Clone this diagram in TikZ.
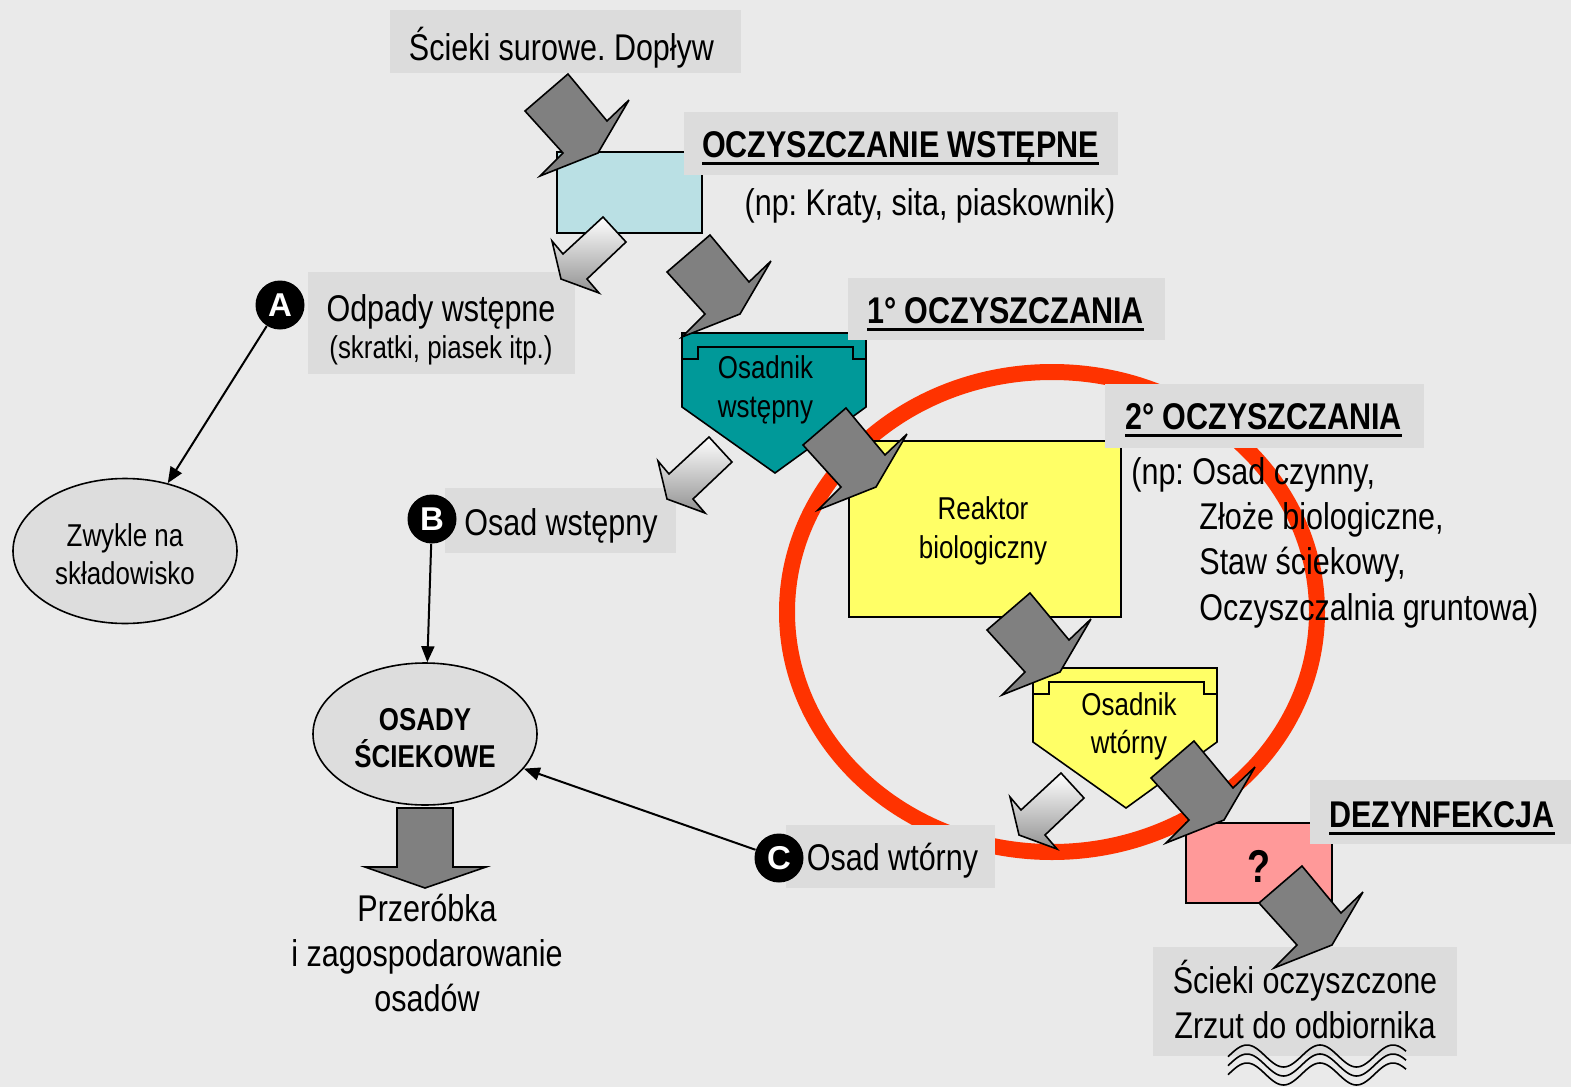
\documentclass[tikz,border=0pt]{standalone}
\usepackage{fontspec}
\setmainfont{Liberation Sans}[FakeStretch=0.82]
\newfontfamily\circfont{Liberation Sans}
\usetikzlibrary{arrows.meta,shapes.geometric}
\definecolor{bgc}{RGB}{234,234,234}
\definecolor{lblc}{RGB}{220,220,220}
\definecolor{prec}{RGB}{186,224,228}
\definecolor{tealc}{RGB}{0,153,153}
\definecolor{yelc}{RGB}{255,255,102}
\definecolor{pinkc}{RGB}{255,153,153}
\definecolor{ringc}{RGB}{255,51,0}
\definecolor{garc}{RGB}{128,128,128}
\definecolor{gradlo}{RGB}{145,145,145}
\definecolor{ellc}{RGB}{221,221,221}
\frenchspacing
\newcommand\szM{\fontsize{18.6pt}{22pt}\selectfont}
\newcommand\szS{\fontsize{15.8pt}{19pt}\selectfont}
\newcommand\ulbar[1]{\setbox0=\hbox{#1}\rlap{\rule[-4.1pt]{\wd0}{1.6pt}}\box0}
\begin{document}
\begin{tikzpicture}[x=0.5pt,y=-0.5pt,
  lbl/.style={fill=lblc, inner sep=0pt},
  txt/.style={inner sep=0pt, anchor=base, font=\szM},
  hd/.style={inner sep=0pt, anchor=base, font=\szM\bfseries},
  intxt/.style={inner sep=0pt, anchor=base, font=\szS},
  boxs/.style={draw, line width=0.8pt, inner sep=0pt},
  ells/.style={ellipse, draw, line width=0.8pt, fill=ellc, inner sep=0pt},
  conn/.style={draw, line width=1pt, -{Triangle[length=8pt,width=6.5pt]}},
  badge/.style={circle, fill=black, text=white, inner sep=0pt, minimum size=24.5pt,
    font=\circfont\fontsize{16.5pt}{16.5pt}\selectfont\bfseries},
  garrow/.pic={\draw[line width=0.8pt, fill=garc, miter limit=5]
     (0,0) -- (43,-37) -- (82,10) -- (104,-11) -- (73,42) -- (15,65) -- (38,42) -- cycle;},
  warrow/.pic={\draw[line width=0.8pt, top color=white, bottom color=gradlo, miter limit=5]
     (0,0) -- (23,25) -- (-16,62) -- (-4,76) -- (-42,62) -- (-51,24) -- (-40,37) -- cycle;},
  tank/.pic={\draw[line width=0.8pt, fill=#1] (0,0) -- (184,0) -- (184,74) -- (93,140) -- (0,74) -- cycle;
     \draw[line width=0.8pt] (0,26) -- (16,26) -- (16,14) -- (171,14) -- (171,26) -- (184,26);},
]
\useasboundingbox (0,0) rectangle (1571,1087);
\fill[bgc] (0,0) rectangle (1571,1087);

% red ring
\draw[ringc, line width=8pt] (1052,612) ellipse [x radius=265, y radius=240];

% process shapes
\node[boxs, fill=prec, minimum width=72.5pt, minimum height=40.5pt] (pre) at (629.5,192.5) {};
\pic (tk1) at (682,333) {tank=tealc};
\node[boxs, fill=yelc, minimum width=136pt, minimum height=88pt] (reak) at (985,529) {};
\pic (tk2) at (1033,668) {tank=yelc};
\node[boxs, fill=pinkc, minimum width=73pt, minimum height=40pt] (dez) at (1259,863) {};
\node[ells, minimum width=112pt, minimum height=72.5pt] (zw) at (125,551) {};
\node[ells, minimum width=112pt, minimum height=71pt] (osady) at (425,734) {};

% label boxes
\node[lbl, minimum width=175.5pt, minimum height=31.5pt] (Lin) at (565.5,41.5) {};
\node[lbl, minimum width=217pt, minimum height=31.5pt] (Lpre) at (901,143.5) {};
\node[lbl, minimum width=158.5pt, minimum height=31pt] (L1) at (1006.5,309) {};
\node[lbl, minimum width=159.5pt, minimum height=32pt] (L2) at (1264.5,416) {};
\node[lbl, minimum width=130.5pt, minimum height=32pt] (Ldez) at (1440.5,812) {};
\node[lbl, minimum width=152pt, minimum height=54.5pt] (Lout) at (1305,1001.5) {};
\node[lbl, minimum width=133.5pt, minimum height=51pt] (Lodp) at (441.5,323) {};
\node[lbl, minimum width=115.5pt, minimum height=32.5pt] (Losw) at (560.5,520.5) {};
\node[lbl, minimum width=104.5pt, minimum height=31.5pt] (Loswt) at (890.5,856.5) {};

% block arrows
\pic (ga1) at (525,111) {garrow};
\pic (ga2) at (667,272) {garrow};
\pic (ga3) at (803,445) {garrow};
\pic (ga4) at (987,630) {garrow};
\pic (ga5) at (1151,778) {garrow};
\pic (ga6) at (1259,903) {garrow};
\pic (wa1) at (603,217) {warrow};
\pic (wa2) at (709,437) {warrow};
\pic (wa3) at (1061,773) {warrow};
\draw[line width=0.8pt, fill=garc] (397,808) -- (453,808) -- (453,867) -- (486,867) -- (425,888) -- (365,867) -- (397,867) -- cycle;

% texts
\node[txt] (tIn) at (561.5,60) {Ścieki surowe. Dopływ};
\node[hd] (tPre) at (900.5,157) {\ulbar{OCZYSZCZANIE WSTĘPNE}};
\node[txt] (tPreEx) at (930,215) {(np: Kraty, sita, piaskownik)};
\node[hd] (t1) at (1005.5,323) {\ulbar{1° OCZYSZCZANIA}};
\node[hd] (t2) at (1263.5,429) {\ulbar{2° OCZYSZCZANIA}};
\node[txt, anchor=base west] (t2a) at (1131,484) {(np: Osad czynny,};
\node[txt, anchor=base west] (t2b) at (1199,529) {Złoże biologiczne,};
\node[txt, anchor=base west] (t2c) at (1199,574.5) {Staw ściekowy,};
\node[txt, anchor=base west] (t2d) at (1199,620) {Oczyszczalnia gruntowa)};
\node[hd] (tDez) at (1442,827) {\ulbar{DEZYNFEKCJA}};
\node[txt] (tOut1) at (1305,993) {Ścieki oczyszczone};
\node[txt] (tOut2) at (1305,1038) {Zrzut do odbiornika};
\node[inner sep=0pt, anchor=base, font=\fontsize{23pt}{23pt}\selectfont\bfseries] (tQ) at (1259,882) {?};
\node[txt] (tOdp1) at (441,321) {Odpady wstępne};
\node[intxt] (tOdp2) at (441,358) {(skratki, piasek itp.)};
\node[txt] (tOsw) at (561,535) {Osad wstępny};
\node[txt] (tOswt) at (892.5,870) {Osad wtórny};
\node[txt] (tPr1) at (427,921) {Przeróbka};
\node[txt] (tPr2) at (427,966) {i zagospodarowanie};
\node[txt] (tPr3) at (427,1011) {osadów};
\node[intxt] (tk1a) at (765.5,378) {Osadnik};
\node[intxt] (tk1b) at (765.5,417) {wstępny};
\node[intxt] (tk2a) at (1129,715) {Osadnik};
\node[intxt] (tk2b) at (1129,753) {wtórny};
\node[intxt] (tr1) at (983,519) {Reaktor};
\node[intxt] (tr2) at (983,558) {biologiczny};
\node[intxt] (tz1) at (125,546) {Zwykle na};
\node[intxt] (tz2) at (125,584) {składowisko};
\node[intxt, font=\szS\bfseries] (to1) at (425,730) {OSADY};
\node[intxt, font=\szS\bfseries] (to2) at (425,767) {ŚCIEKOWE};

% badges and connectors
\node[badge] (A) at (280,305) {A};
\node[badge] (B) at (432,519) {B};
\node[badge] (C) at (779,858) {C};
\draw[conn] (A) -- (zw);
\draw[conn] (B) -- (osady);
\draw[conn] (C) -- (osady);

% waves
\foreach \dy in {0,9,18}{
  \draw[line width=0.8pt] plot[domain=-19:159, samples=90, smooth] ({\x+1247}, {1056+\dy-11*cos(4.93151*\x)});
}
\end{tikzpicture}
\end{document}
